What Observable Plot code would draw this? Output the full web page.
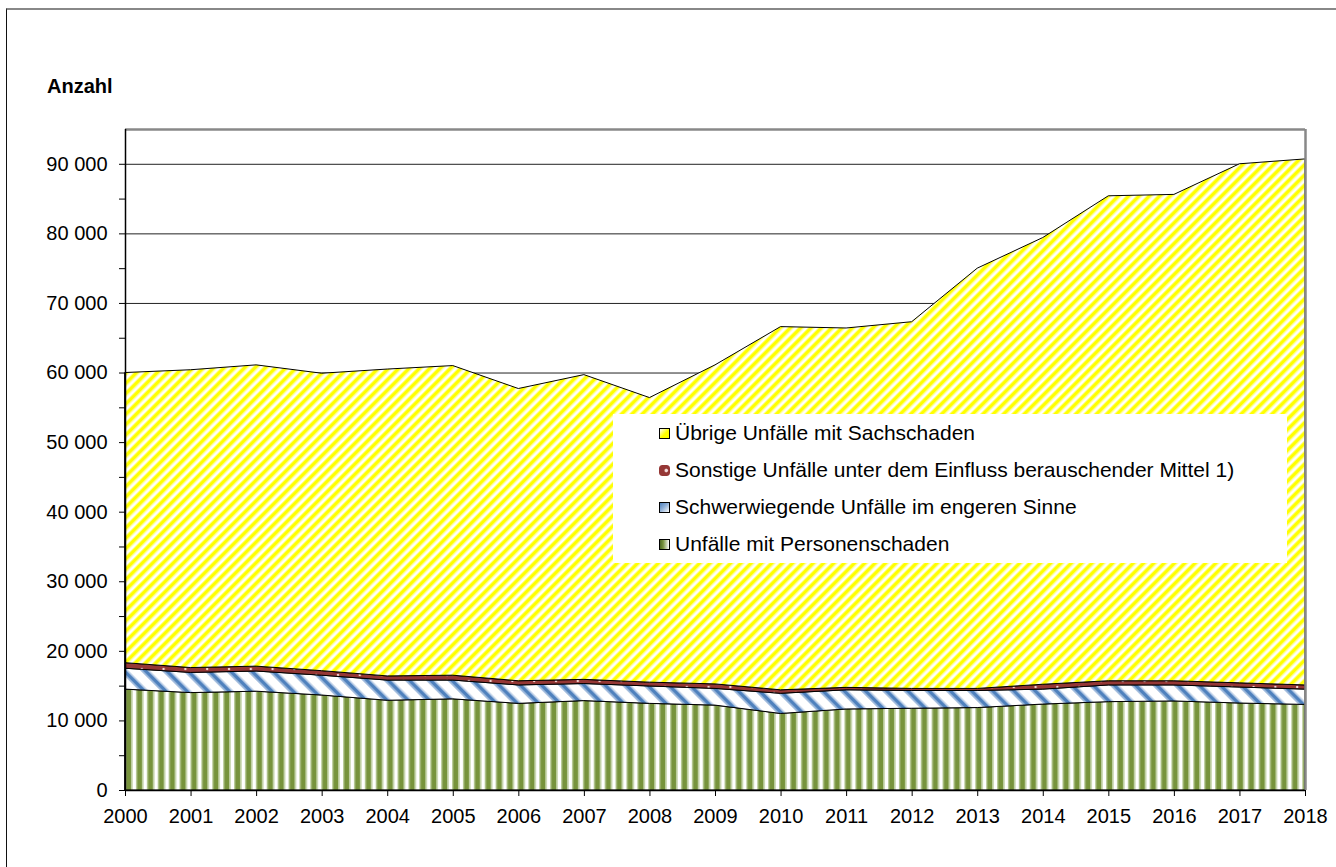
<!DOCTYPE html>
<html>
<head>
<meta charset="utf-8">
<script src="https://cdn.jsdelivr.net/npm/d3@7"></script>
<script src="https://cdn.jsdelivr.net/npm/@observablehq/plot@0.6"></script>
<style>
  body { margin: 0; background: #fff; font-family: "Liberation Sans", Arial, sans-serif; }
  #wrap { position: relative; width: 1336px; height: 867px; overflow: hidden; }
  #frame { position: absolute; left: 6px; top: 8px; width: 1340px; height: 870px;
           border-left: 1.5px solid #111; border-top: 2px solid #888; pointer-events: none; }
  #ylabel { position: absolute; left: 47px; top: 76px; font-size: 20px; font-weight: bold; line-height: 20px; }
  #legend { position: absolute; left: 613px; top: 414px; width: 674px; height: 149px; background: #fff; }
  .row { position: absolute; left: 46px; height: 24px; display: flex; align-items: center; font-size: 21px; white-space: nowrap; }
  .sw { width: 9px; height: 9px; margin-right: 5px; border: 1px solid #000; box-sizing: content-box; }
</style>
</head>
<body>
<div id="wrap">
  <div id="chart"></div>
  <div id="ylabel">Anzahl</div>
  <div id="legend"></div>
  <div id="frame"></div>
</div>
<script>
const years = [2000,2001,2002,2003,2004,2005,2006,2007,2008,2009,2010,2011,2012,2013,2014,2015,2016,2017,2018];
const personen = [14500,14000,14200,13650,12900,13100,12450,12850,12450,12200,11000,11650,11750,11850,12350,12700,12800,12500,12300];
const schwer   = [3000,2900,2900,2850,2900,2700,2650,2450,2500,2400,2900,2750,2550,2450,2150,2400,2300,2300,2200];
const sonstige = [800,700,700,650,600,700,600,600,550,650,500,350,300,300,700,600,600,600,600];
const uebrige  = [41700,42800,43300,42750,44100,44500,42000,43800,40900,45850,52200,51650,52700,60400,64200,69700,69900,74600,75600];

const seriesNames = [
  "Unfälle mit Personenschaden",
  "Schwerwiegende Unfälle im engeren Sinne",
  "Sonstige Unfälle unter dem Einfluss berauschender Mittel 1)",
  "Übrige Unfälle mit Sachschaden"
];
const seriesValues = [personen, schwer, sonstige, uebrige];
const seriesFills = ["url(#pGreen)", "url(#pBlue)", "url(#pRed)", "url(#pYellow)"];

const yTicks = [0,10000,20000,30000,40000,50000,60000,70000,80000,90000];
const yTickLabels = ["0","10 000","20 000","30 000","40 000","50 000","60 000","70 000","80 000","90 000"];
const yMinorTicks = [5000,15000,25000,35000,45000,55000,65000,75000,85000];
const xTickLabels = years.map(String);

const rows = [];
seriesNames.forEach((s, i) => years.forEach((yr, j) => rows.push({year: yr, series: s, value: seriesValues[i][j]})));

const yLabelMap = new Map(yTicks.map((t, i) => [t, yTickLabels[i]]));
const xLabelMap = new Map(years.map((t, i) => [t, xTickLabels[i]]));

const chart = Plot.plot({
  width: 1336,
  height: 867,
  marginLeft: 125,
  marginRight: 31,
  marginTop: 129,
  marginBottom: 77,
  style: {fontFamily: "Liberation Sans, Arial, sans-serif", fontSize: "20px", color: "#000", background: "transparent"},
  x: {domain: [2000, 2018]},
  y: {domain: [0, 95000]},
  color: {type: "ordinal", domain: seriesNames, range: seriesFills},
  marks: [
    Plot.ruleY(yTicks.slice(1), {stroke: "#222", strokeWidth: 1}),
    Plot.areaY(rows, {x: "year", y: "value", z: "series", fill: "series", order: seriesNames, stroke: "#000", strokeWidth: 1}),
    Plot.ruleY([95000], {stroke: "#888", strokeWidth: 2.5}),
    Plot.ruleX([2018], {stroke: "#888", strokeWidth: 2.5}),
    Plot.ruleX([2000], {stroke: "#000", strokeWidth: 1.5}),
    Plot.ruleY([0], {stroke: "#000", strokeWidth: 1.5}),
    Plot.axisY({ticks: yTicks, tickFormat: d => yLabelMap.get(d), tickSize: 6, tickPadding: 12, label: null}),
    Plot.axisY({ticks: yMinorTicks, tickFormat: () => "", tickSize: 6, label: null}),
    Plot.axisX({ticks: years, tickFormat: d => xLabelMap.get(d), tickSize: 6, tickPadding: 12, label: null})
  ]
});

// pattern definitions
const defs = d3.select(chart).insert("defs", ":first-child");
// yellow diagonal "/"
{
  const p = defs.append("pattern").attr("id", "pYellow").attr("patternUnits", "userSpaceOnUse")
    .attr("width", 7.3).attr("height", 7.3).attr("patternTransform", "rotate(45)");
  p.append("rect").attr("width", 7.3).attr("height", 7.3).attr("fill", "#fff");
  p.append("rect").attr("x", 0).attr("width", 0.8).attr("height", 7.3).attr("fill", "#ffff88");
  p.append("rect").attr("x", 0.8).attr("width", 3.4).attr("height", 7.3).attr("fill", "#ffff00");
  p.append("rect").attr("x", 4.2).attr("width", 0.8).attr("height", 7.3).attr("fill", "#ffff88");
}
// blue diagonal "\"
{
  const p = defs.append("pattern").attr("id", "pBlue").attr("patternUnits", "userSpaceOnUse")
    .attr("width", 15).attr("height", 15).attr("patternTransform", "rotate(-45)");
  p.append("rect").attr("width", 15).attr("height", 15).attr("fill", "#fff");
  p.append("rect").attr("x", 0).attr("width", 1.5).attr("height", 15).attr("fill", "#a9c1e0");
  p.append("rect").attr("x", 1.5).attr("width", 3.5).attr("height", 15).attr("fill", "#4f81bd");
  p.append("rect").attr("x", 5).attr("width", 1.5).attr("height", 15).attr("fill", "#a9c1e0");
}
// green vertical
{
  const p = defs.append("pattern").attr("id", "pGreen").attr("patternUnits", "userSpaceOnUse")
    .attr("width", 10.9).attr("height", 10).attr("x", 125);
  p.append("rect").attr("width", 10.9).attr("height", 10).attr("fill", "#fff");
  p.append("rect").attr("x", 0).attr("width", 1.2).attr("height", 10).attr("fill", "#b9cb98");
  p.append("rect").attr("x", 1.2).attr("width", 5.2).attr("height", 10).attr("fill", "#77933c");
  p.append("rect").attr("x", 6.4).attr("width", 1.2).attr("height", 10).attr("fill", "#b9cb98");
}
// red with white dots
{
  const p = defs.append("pattern").attr("id", "pRed").attr("patternUnits", "userSpaceOnUse")
    .attr("width", 21.8).attr("height", 6);
  p.append("rect").attr("width", 21.8).attr("height", 6).attr("fill", "#953735");
  p.append("circle").attr("cx", 11).attr("cy", 3).attr("r", 1.2).attr("fill", "#f2d6d6");
}

document.getElementById("chart").appendChild(chart);

// legend (top entry = top series)
const legendItems = [
  {name: seriesNames[3], bg: "linear-gradient(135deg, #ffffff 0%, #ffff00 55%, #ffff00 100%)", border: true},
  {name: seriesNames[2], bg: "radial-gradient(circle at 70% 50%, #f4dede 0 15%, #953735 30%)", border: false},
  {name: seriesNames[1], bg: "linear-gradient(135deg, #4f81bd 0%, #8fb0d8 45%, #ffffff 100%)", border: true},
  {name: seriesNames[0], bg: "linear-gradient(90deg, #4f6a25 0%, #77933c 35%, #ffffff 100%)", border: true}
];
const rowCenters = [19, 56, 93, 130];
const legend = document.getElementById("legend");
legendItems.forEach((it, i) => {
  const row = document.createElement("div");
  row.className = "row";
  row.style.top = (rowCenters[i] - 12) + "px";
  const sw = document.createElement("div");
  sw.className = "sw";
  sw.style.background = it.bg;
  if (!it.border) { sw.style.border = "1px solid #953735"; sw.style.borderRadius = "3px"; }
  const tx = document.createElement("span");
  tx.textContent = it.name;
  row.appendChild(sw);
  row.appendChild(tx);
  legend.appendChild(row);
});
</script>
</body>
</html>
